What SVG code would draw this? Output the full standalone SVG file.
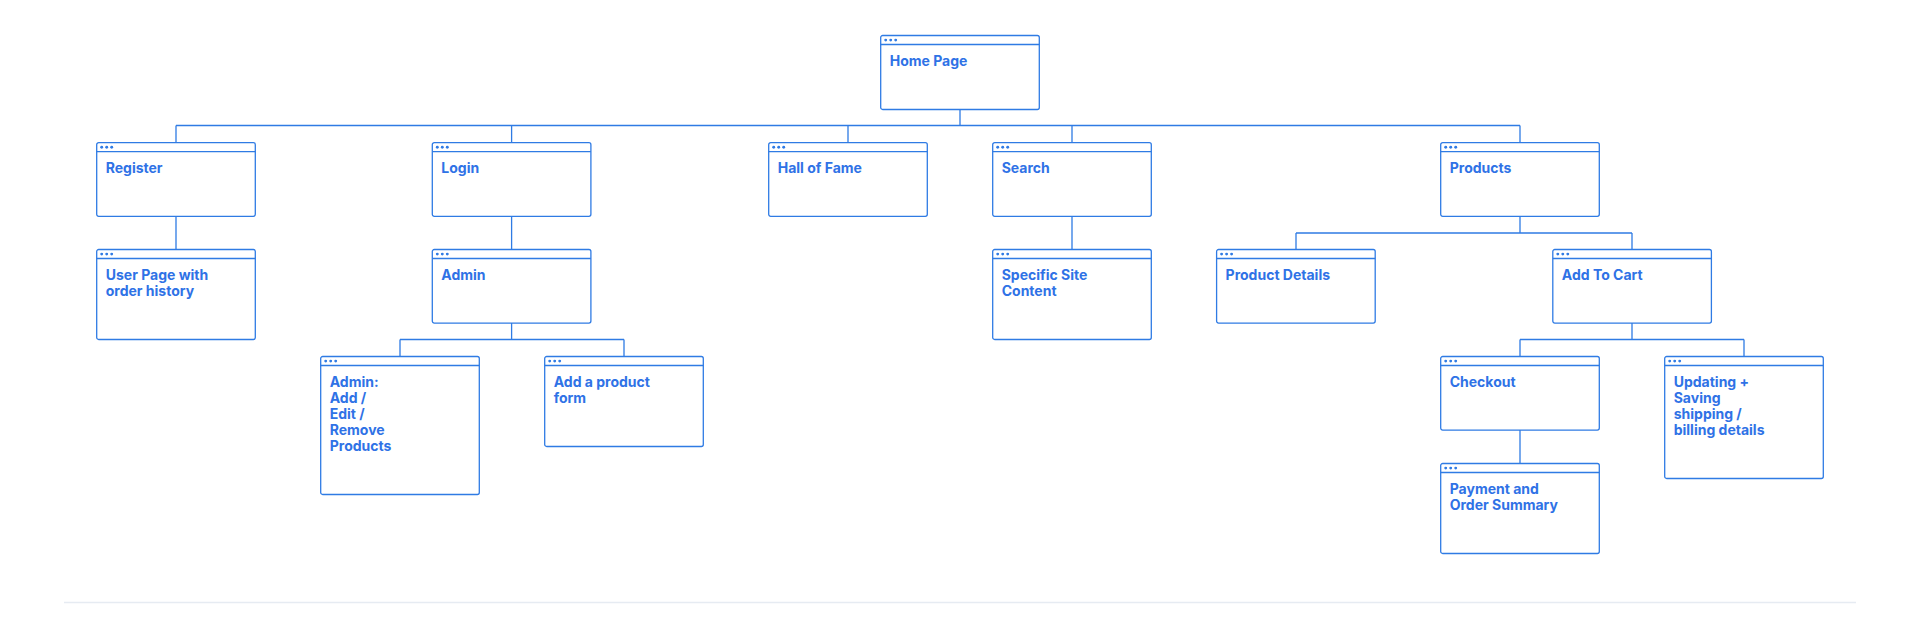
<svg xmlns="http://www.w3.org/2000/svg" width="1920" height="627" viewBox="0 0 1920 627">
<style>
.box{fill:#fff;stroke:#2f7be4;stroke-width:1.3}
.hdr{stroke:#2f7be4;stroke-width:1.3;fill:none}
.dot{fill:#2f7be4}
.lbl{font-family:Inter,"Liberation Sans",sans-serif;font-weight:700;font-size:14px;fill:#2f72e6}
.con{fill:none;stroke:#2f7be4;stroke-width:1.3}
</style>
<defs>
<g id="dots"><circle cx="5" cy="4.6" r="1.45" class="dot"/><circle cx="10" cy="4.6" r="1.45" class="dot"/><circle cx="15" cy="4.6" r="1.45" class="dot"/></g>
</defs>
<rect width="1920" height="627" fill="#fff"/>
<g id="connectors">
<path class="con" d="M960 109.5V125.5M176 125.5H1520M176 125.5V142.7M511.6 125.5V142.7M848 125.5V142.7M1072 125.5V142.7M1520 125.5V142.7"/>
<path class="con" d="M176 216.3V249.5M511.6 216.3V249.5M1072 216.3V249.5"/>
<path class="con" d="M1520 216.3V233M1296 233H1632M1296 233V249.5M1632 233V249.5"/>
<path class="con" d="M511.6 323V339.5M400 339.5H624M400 339.5V356.5M624 339.5V356.5"/>
<path class="con" d="M1632 323V339.5M1520 339.5H1744M1520 339.5V356.5M1744 339.5V356.5"/>
<path class="con" d="M1520 430V463.5"/>
</g>
<g id="home" transform="translate(880.7 35.5)"><rect class="box" width="158.6" height="74" rx="2"/><path class="hdr" d="M0 9H158.6"/><use href="#dots"/><text class="lbl" x="9" y="30">Home Page</text></g>
<g id="register" transform="translate(96.7 142.7)"><rect class="box" width="158.6" height="73.6" rx="2"/><path class="hdr" d="M0 9H158.6"/><use href="#dots"/><text class="lbl" x="9" y="30">Register</text></g>
<g id="login" transform="translate(432.3 142.7)"><rect class="box" width="158.6" height="73.6" rx="2"/><path class="hdr" d="M0 9H158.6"/><use href="#dots"/><text class="lbl" x="9" y="30">Login</text></g>
<g id="hall-of-fame" transform="translate(768.7 142.7)"><rect class="box" width="158.6" height="73.6" rx="2"/><path class="hdr" d="M0 9H158.6"/><use href="#dots"/><text class="lbl" x="9" y="30">Hall of Fame</text></g>
<g id="search" transform="translate(992.7 142.7)"><rect class="box" width="158.6" height="73.6" rx="2"/><path class="hdr" d="M0 9H158.6"/><use href="#dots"/><text class="lbl" x="9" y="30">Search</text></g>
<g id="products" transform="translate(1440.7 142.7)"><rect class="box" width="158.6" height="73.6" rx="2"/><path class="hdr" d="M0 9H158.6"/><use href="#dots"/><text class="lbl" x="9" y="30">Products</text></g>
<g id="user-page" transform="translate(96.7 249.5)"><rect class="box" width="158.6" height="90" rx="2"/><path class="hdr" d="M0 9H158.6"/><use href="#dots"/><text class="lbl" x="9" y="30">User Page with<tspan x="9" dy="16">order history</tspan></text></g>
<g id="admin" transform="translate(432.3 249.5)"><rect class="box" width="158.6" height="73.6" rx="2"/><path class="hdr" d="M0 9H158.6"/><use href="#dots"/><text class="lbl" x="9" y="30">Admin</text></g>
<g id="specific-site-content" transform="translate(992.7 249.5)"><rect class="box" width="158.6" height="90" rx="2"/><path class="hdr" d="M0 9H158.6"/><use href="#dots"/><text class="lbl" x="9" y="30">Specific Site<tspan x="9" dy="16">Content</tspan></text></g>
<g id="product-details" transform="translate(1216.6 249.5)"><rect class="box" width="158.6" height="73.6" rx="2"/><path class="hdr" d="M0 9H158.6"/><use href="#dots"/><text class="lbl" x="9" y="30">Product Details</text></g>
<g id="add-to-cart" transform="translate(1552.8 249.5)"><rect class="box" width="158.6" height="73.6" rx="2"/><path class="hdr" d="M0 9H158.6"/><use href="#dots"/><text class="lbl" x="9" y="30">Add To Cart</text></g>
<g id="admin-add-edit-remove" transform="translate(320.7 356.5)"><rect class="box" width="158.6" height="138" rx="2"/><path class="hdr" d="M0 9H158.6"/><use href="#dots"/><text class="lbl" x="9" y="30">Admin:<tspan x="9" dy="16">Add /</tspan><tspan x="9" dy="16">Edit /</tspan><tspan x="9" dy="16">Remove</tspan><tspan x="9" dy="16">Products</tspan></text></g>
<g id="add-product-form" transform="translate(544.7 356.5)"><rect class="box" width="158.6" height="90" rx="2"/><path class="hdr" d="M0 9H158.6"/><use href="#dots"/><text class="lbl" x="9" y="30">Add a product<tspan x="9" dy="16">form</tspan></text></g>
<g id="checkout" transform="translate(1440.7 356.5)"><rect class="box" width="158.6" height="73.6" rx="2"/><path class="hdr" d="M0 9H158.6"/><use href="#dots"/><text class="lbl" x="9" y="30">Checkout</text></g>
<g id="updating-saving" transform="translate(1664.7 356.5)"><rect class="box" width="158.6" height="122" rx="2"/><path class="hdr" d="M0 9H158.6"/><use href="#dots"/><text class="lbl" x="9" y="30">Updating +<tspan x="9" dy="16">Saving</tspan><tspan x="9" dy="16">shipping /</tspan><tspan x="9" dy="16">billing details</tspan></text></g>
<g id="payment" transform="translate(1440.7 463.5)"><rect class="box" width="158.6" height="90" rx="2"/><path class="hdr" d="M0 9H158.6"/><use href="#dots"/><text class="lbl" x="9" y="30">Payment and<tspan x="9" dy="16">Order Summary</tspan></text></g>
<path d="M64 602.5H1856" stroke="#e6ebf2" stroke-width="1.3" fill="none"/>
</svg>
